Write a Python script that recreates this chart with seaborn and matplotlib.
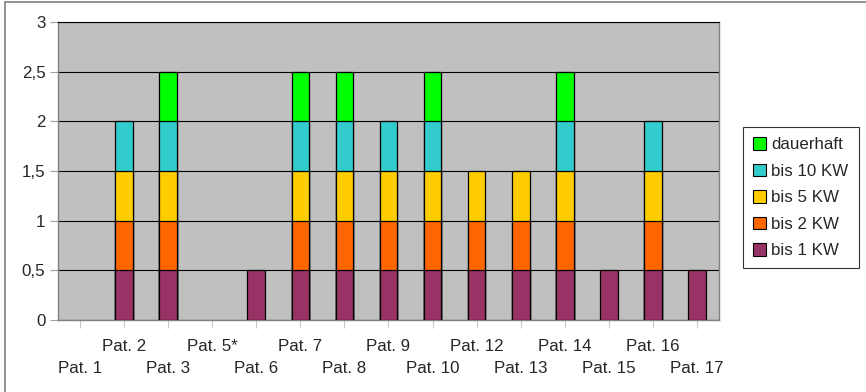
import numpy as np
import pandas as pd
import matplotlib
matplotlib.use("Agg")
import matplotlib.pyplot as plt
from matplotlib.patches import Patch
from matplotlib.lines import Line2D
import seaborn as sns

# Patients and duration classes (each class contributes 0.5)
patients = ["Pat. 1", "Pat. 2", "Pat. 3", "Pat. 5*", "Pat. 6", "Pat. 7", "Pat. 8",
            "Pat. 9", "Pat. 10", "Pat. 12", "Pat. 13", "Pat. 14", "Pat. 15",
            "Pat. 16", "Pat. 17"]
bis_1_kw = [0, 0.5, 0.5, 0, 0.5, 0.5, 0.5, 0.5, 0.5, 0.5, 0.5, 0.5, 0.5, 0.5, 0.5]
bis_2_kw = [0, 0.5, 0.5, 0, 0, 0.5, 0.5, 0.5, 0.5, 0.5, 0.5, 0.5, 0, 0.5, 0]
bis_5_kw = [0, 0.5, 0.5, 0, 0, 0.5, 0.5, 0.5, 0.5, 0.5, 0.5, 0.5, 0, 0.5, 0]
bis_10_kw = [0, 0.5, 0.5, 0, 0, 0.5, 0.5, 0.5, 0.5, 0, 0, 0.5, 0, 0.5, 0]
dauerhaft = [0, 0, 0.5, 0, 0, 0.5, 0.5, 0, 0.5, 0, 0, 0.5, 0, 0, 0]

series_names = ["bis 1 KW", "bis 2 KW", "bis 5 KW", "bis 10 KW", "dauerhaft"]
series_values = [bis_1_kw, bis_2_kw, bis_5_kw, bis_10_kw, dauerhaft]
series_colors = ["#993366", "#FF6600", "#FFCC00", "#33CCCC", "#00FF00"]
y_ticks = [0, 0.5, 1, 1.5, 2, 2.5, 3]
y_tick_labels = ["0", "0,5", "1", "1,5", "2", "2,5", "3"]

sns.set_style("white")
plt.rcParams["font.family"] = ["Liberation Sans", "DejaVu Sans"]
FS = 12.2

fig = plt.figure(figsize=(8.66, 3.92), dpi=100)
W, H = 866, 392
ax = fig.add_axes([58 / W, 1 - 320 / H, 661 / W, 298 / H])
ax.set_facecolor("#C0C0C0")

# Stacked bars: draw cumulative totals, top class first, so lower classes overlay
cum = np.zeros(len(patients))
cums = []
for vals in series_values:
    vals = np.asarray(vals, dtype=float)
    cum = cum + vals
    cums.append(np.where(vals > 0, cum, np.nan))

for name, c, color in reversed(list(zip(series_names, cums, series_colors))):
    d = pd.DataFrame({"patient": patients, "value": c}).dropna()
    sns.barplot(data=d, x="patient", y="value", order=patients, color=color,
                saturation=1, width=0.4, edgecolor="black", linewidth=0.9,
                errorbar=None, ax=ax, zorder=3)

ax.set_xlim(-0.5, len(patients) - 0.5)
ax.set_ylim(0, 3)
ax.set_xlabel("")
ax.set_ylabel("")

# Grid and axes styling
ax.set_yticks(y_ticks)
ax.set_yticklabels(y_tick_labels, fontsize=FS)
ax.yaxis.grid(True, color="black", linewidth=0.8, zorder=1)
ax.xaxis.grid(False)
ax.set_axisbelow(True)
for side in ["left", "bottom", "right"]:
    ax.spines[side].set_color("#808080")
    ax.spines[side].set_linewidth(1.0)
ax.spines["top"].set_color("black")
ax.spines["top"].set_linewidth(0.8)

ax.tick_params(axis="y", direction="out", length=5.8, width=0.8, color="#A0A0A0",
               pad=3.2, labelsize=FS, left=True)
ax.tick_params(axis="x", direction="out", length=5.8, width=0.8, color="#C8C8C8",
               labelsize=FS, bottom=True)
ax.set_xticks(range(len(patients)))
ax.set_xticklabels(patients, fontsize=FS)
# Staggered category labels on two rows
for i, tick in enumerate(ax.xaxis.get_major_ticks()):
    tick.set_pad(8.0 if i % 2 == 1 else 24.0)

# Legend (top class listed first)
handles = [Patch(facecolor=col, edgecolor="black", linewidth=0.8, label=n)
           for n, col in zip(reversed(series_names), reversed(series_colors))]
leg = fig.legend(handles=handles, loc="upper left",
                 bbox_to_anchor=(743 / W, 1 - 127 / H), bbox_transform=fig.transFigure,
                 borderaxespad=0, fontsize=FS, frameon=True, fancybox=False,
                 shadow=False, handlelength=0.78, handleheight=0.78,
                 handletextpad=0.3, labelspacing=0.66, borderpad=0.6)
leg.get_frame().set_edgecolor("black")
leg.get_frame().set_linewidth(0.8)

# Outer chart frame
fig.add_artist(Line2D([5 / W, 1], [1 - 1.5 / H, 1 - 1.5 / H], transform=fig.transFigure,
                      color="#808080", linewidth=1.2))
fig.add_artist(Line2D([5 / W, 5 / W], [0, 1 - 1.5 / H], transform=fig.transFigure,
                      color="#808080", linewidth=1.2))

fig.savefig("out.png", dpi=100, facecolor="white")
